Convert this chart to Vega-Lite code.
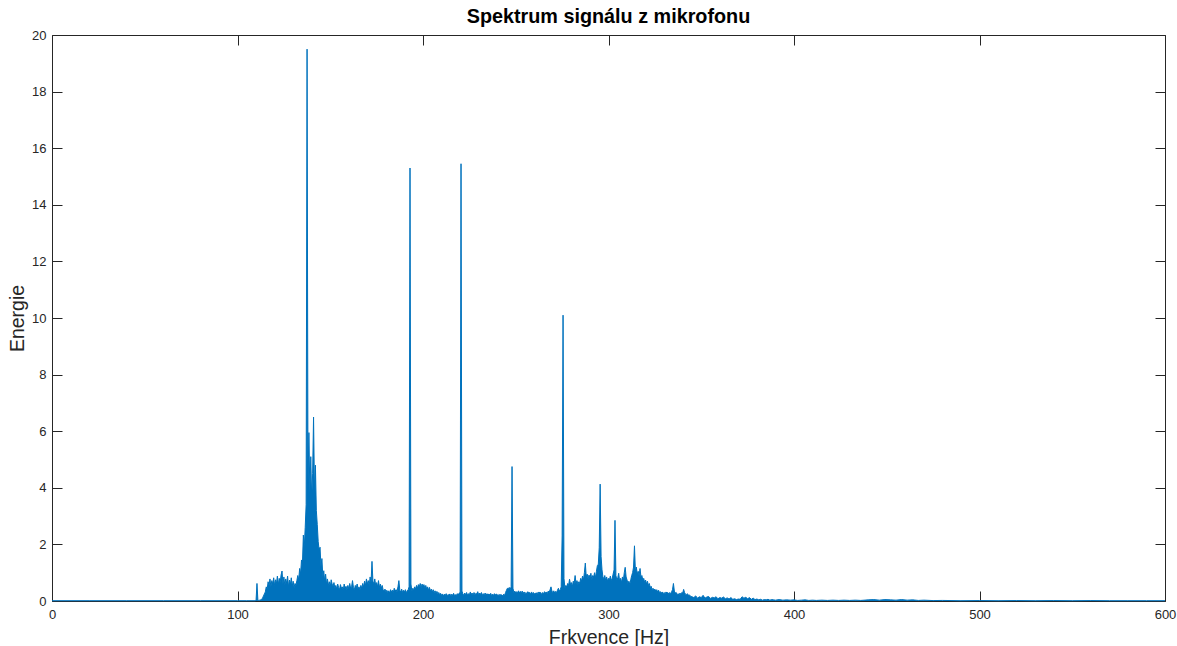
{
  "$schema": "https://vega.github.io/schema/vega-lite/v6.json",
  "width": 1113,
  "height": 566,
  "autosize": "none",
  "padding": {"left": 52, "top": 35, "right": 12, "bottom": 45},
  "background": "#ffffff",
  "title": {"text": "Spektrum signálu z mikrofonu", "font": "Liberation Sans", "fontSize": 19.8, "fontWeight": "bold", "color": "#000000", "anchor": "middle", "offset": 2},
  "config": {
    "view": {"stroke": null},
    "axis": {"grid": false, "labelFont": "Liberation Sans", "labelFontSize": 13, "labelColor": "#262626", "labelFlush": false, "tickColor": "#262626", "domainColor": "#262626", "domainWidth": 1, "tickWidth": 1, "tickSize": -10, "titleFont": "Liberation Sans", "titleFontSize": 19.5, "titleFontWeight": "normal", "titleColor": "#262626"}
  },
  "data": {"values": [
    {"f":0,"e":0.01},{"f":20,"e":0.01},{"f":40,"e":0.01},{"f":60,"e":0.01},{"f":80,"e":0.01},{"f":100,"e":0.01},{"f":105,"e":0.01},{"f":109.5,"e":0.01},
    {"f":110,"e":0.02},{"f":110.5,"e":0.62},{"f":111,"e":0.02},{"f":111.5,"e":0.02},{"f":112,"e":0.03},{"f":112.5,"e":0.04},{"f":113,"e":0.06},{"f":113.5,"e":0.1},{"f":114,"e":0.18},{"f":114.5,"e":0.25},
    {"f":115,"e":0.32},{"f":115.5,"e":0.5},{"f":116,"e":0.42},{"f":116.5,"e":0.68},{"f":117,"e":0.55},{"f":117.5,"e":0.78},{"f":118,"e":0.5},{"f":118.5,"e":0.72},{"f":119,"e":0.6},{"f":119.5,"e":0.82},
    {"f":120,"e":0.55},{"f":120.5,"e":0.75},{"f":121,"e":0.62},{"f":121.5,"e":0.88},{"f":122,"e":0.58},{"f":122.5,"e":0.8},{"f":123,"e":0.65},{"f":123.5,"e":0.92},{"f":124,"e":1.06},{"f":124.5,"e":0.6},
    {"f":125,"e":0.85},{"f":125.5,"e":0.55},{"f":126,"e":0.78},{"f":126.5,"e":0.62},{"f":127,"e":0.88},{"f":127.5,"e":0.5},{"f":128,"e":0.74},{"f":128.5,"e":0.58},{"f":129,"e":0.82},{"f":129.5,"e":0.52},
    {"f":130,"e":0.7},{"f":130.5,"e":0.48},{"f":131,"e":0.62},{"f":131.5,"e":0.55},{"f":132,"e":0.72},{"f":132.5,"e":0.9},{"f":133,"e":0.75},{"f":133.5,"e":1.15},{"f":134,"e":0.95},{"f":134.5,"e":1.45},
    {"f":135,"e":1.3},{"f":135.5,"e":2.33},{"f":136,"e":1.9},{"f":136.5,"e":2.6},{"f":137,"e":3.4},{"f":137.5,"e":19.5},{"f":138,"e":4.2},{"f":138.5,"e":5.95},{"f":139,"e":3.8},{"f":139.5,"e":5.1},
    {"f":140,"e":3.6},{"f":140.5,"e":4.5},{"f":141,"e":6.5},{"f":141.5,"e":3.9},{"f":142,"e":4.8},{"f":142.5,"e":3.2},{"f":143,"e":2.7},{"f":143.5,"e":2.1},{"f":144,"e":1.8},{"f":144.5,"e":1.9},
    {"f":145,"e":1.2},{"f":145.5,"e":1.5},{"f":146,"e":0.85},{"f":146.5,"e":1.07},{"f":147,"e":0.7},{"f":147.5,"e":0.95},{"f":148,"e":0.6},{"f":148.5,"e":0.78},{"f":149,"e":0.55},{"f":149.5,"e":0.68},
    {"f":150,"e":0.5},{"f":150.5,"e":0.75},{"f":151,"e":0.6},{"f":151.5,"e":0.52},{"f":152,"e":0.65},{"f":152.5,"e":0.45},{"f":153,"e":0.55},{"f":153.5,"e":0.42},{"f":154,"e":0.6},{"f":154.5,"e":0.48},
    {"f":155,"e":0.4},{"f":155.5,"e":0.58},{"f":156,"e":0.45},{"f":156.5,"e":0.5},{"f":157,"e":0.38},{"f":157.5,"e":0.6},{"f":158,"e":0.44},{"f":158.5,"e":0.52},{"f":159,"e":0.4},{"f":159.5,"e":0.55},
    {"f":160,"e":0.42},{"f":160.5,"e":0.62},{"f":161,"e":0.45},{"f":161.5,"e":0.5},{"f":162,"e":0.72},{"f":162.5,"e":0.48},{"f":163,"e":0.4},{"f":163.5,"e":0.55},{"f":164,"e":0.45},{"f":164.5,"e":0.6},
    {"f":165,"e":0.42},{"f":165.5,"e":0.5},{"f":166,"e":0.38},{"f":166.5,"e":0.55},{"f":167,"e":0.45},{"f":167.5,"e":0.62},{"f":168,"e":0.5},{"f":168.5,"e":0.7},{"f":169,"e":0.55},{"f":169.5,"e":0.78},
    {"f":170,"e":0.6},{"f":170.5,"e":0.72},{"f":171,"e":0.55},{"f":171.5,"e":0.85},{"f":172,"e":0.65},{"f":172.5,"e":1.4},{"f":173,"e":0.7},{"f":173.5,"e":0.6},{"f":174,"e":0.78},{"f":174.5,"e":0.55},
    {"f":175,"e":0.65},{"f":175.5,"e":0.5},{"f":176,"e":0.72},{"f":176.5,"e":0.48},{"f":177,"e":0.6},{"f":177.5,"e":0.45},{"f":178,"e":0.55},{"f":178.5,"e":0.4},{"f":179,"e":0.35},{"f":179.5,"e":0.42},
    {"f":180,"e":0.32},{"f":180.5,"e":0.38},{"f":181,"e":0.3},{"f":181.5,"e":0.36},{"f":182,"e":0.28},{"f":182.5,"e":0.4},{"f":183,"e":0.32},{"f":183.5,"e":0.38},{"f":184,"e":0.3},{"f":184.5,"e":0.45},
    {"f":185,"e":0.35},{"f":185.5,"e":0.4},{"f":186,"e":0.33},{"f":186.5,"e":0.5},{"f":187,"e":0.72},{"f":187.5,"e":0.38},{"f":188,"e":0.32},{"f":188.5,"e":0.42},{"f":189,"e":0.3},{"f":189.5,"e":0.38},
    {"f":190,"e":0.32},{"f":190.5,"e":0.4},{"f":191,"e":0.3},{"f":191.5,"e":0.35},{"f":192,"e":0.4},{"f":192.5,"e":0.5},{"f":193,"e":15.3},{"f":193.5,"e":0.6},{"f":194,"e":0.35},{"f":194.5,"e":0.45},
    {"f":195,"e":0.4},{"f":195.5,"e":0.5},{"f":196,"e":0.42},{"f":196.5,"e":0.55},{"f":197,"e":0.45},{"f":197.5,"e":0.58},{"f":198,"e":0.5},{"f":198.5,"e":0.62},{"f":199,"e":0.48},{"f":199.5,"e":0.6},
    {"f":200,"e":0.52},{"f":200.5,"e":0.58},{"f":201,"e":0.45},{"f":201.5,"e":0.55},{"f":202,"e":0.42},{"f":202.5,"e":0.5},{"f":203,"e":0.38},{"f":203.5,"e":0.48},{"f":204,"e":0.35},{"f":204.5,"e":0.42},
    {"f":205,"e":0.32},{"f":205.5,"e":0.4},{"f":206,"e":0.3},{"f":206.5,"e":0.36},{"f":207,"e":0.28},{"f":207.5,"e":0.34},{"f":208,"e":0.26},{"f":208.5,"e":0.3},{"f":209,"e":0.22},{"f":209.5,"e":0.27},
    {"f":210,"e":0.2},{"f":210.5,"e":0.25},{"f":211,"e":0.18},{"f":211.5,"e":0.24},{"f":212,"e":0.2},{"f":212.5,"e":0.26},{"f":213,"e":0.19},{"f":213.5,"e":0.23},{"f":214,"e":0.2},{"f":214.5,"e":0.25},
    {"f":215,"e":0.18},{"f":215.5,"e":0.24},{"f":216,"e":0.2},{"f":216.5,"e":0.27},{"f":217,"e":0.19},{"f":217.5,"e":0.22},{"f":218,"e":0.2},{"f":218.5,"e":0.26},{"f":219,"e":0.21},{"f":219.5,"e":0.28},
    {"f":220,"e":0.3},{"f":220.5,"e":15.45},{"f":221,"e":0.35},{"f":221.5,"e":0.25},{"f":222,"e":0.2},{"f":222.5,"e":0.28},{"f":223,"e":0.22},{"f":223.5,"e":0.3},{"f":224,"e":0.2},{"f":224.5,"e":0.26},
    {"f":225,"e":0.22},{"f":225.5,"e":0.32},{"f":226,"e":0.24},{"f":226.5,"e":0.28},{"f":227,"e":0.2},{"f":227.5,"e":0.3},{"f":228,"e":0.22},{"f":228.5,"e":0.27},{"f":229,"e":0.25},{"f":229.5,"e":0.33},
    {"f":230,"e":0.22},{"f":230.5,"e":0.28},{"f":231,"e":0.24},{"f":231.5,"e":0.3},{"f":232,"e":0.2},{"f":232.5,"e":0.26},{"f":233,"e":0.22},{"f":233.5,"e":0.28},{"f":234,"e":0.21},{"f":234.5,"e":0.26},
    {"f":235,"e":0.2},{"f":235.5,"e":0.25},{"f":236,"e":0.22},{"f":236.5,"e":0.27},{"f":237,"e":0.19},{"f":237.5,"e":0.24},{"f":238,"e":0.2},{"f":238.5,"e":0.26},{"f":239,"e":0.22},{"f":239.5,"e":0.25},
    {"f":240,"e":0.2},{"f":240.5,"e":0.23},{"f":241,"e":0.19},{"f":241.5,"e":0.24},{"f":242,"e":0.2},{"f":242.5,"e":0.22},{"f":243,"e":0.18},{"f":243.5,"e":0.24},{"f":244,"e":0.2},{"f":244.5,"e":0.3},
    {"f":245,"e":0.38},{"f":245.5,"e":0.45},{"f":246,"e":0.42},{"f":246.5,"e":0.48},{"f":247,"e":0.4},{"f":247.5,"e":0.5},{"f":248,"e":4.75},{"f":248.5,"e":0.45},{"f":249,"e":0.3},{"f":249.5,"e":0.35},
    {"f":250,"e":0.28},{"f":250.5,"e":0.33},{"f":251,"e":0.3},{"f":251.5,"e":0.36},{"f":252,"e":0.28},{"f":252.5,"e":0.34},{"f":253,"e":0.3},{"f":253.5,"e":0.35},{"f":254,"e":0.27},{"f":254.5,"e":0.32},
    {"f":255,"e":0.26},{"f":255.5,"e":0.3},{"f":256,"e":0.25},{"f":256.5,"e":0.33},{"f":257,"e":0.28},{"f":257.5,"e":0.3},{"f":258,"e":0.24},{"f":258.5,"e":0.32},{"f":259,"e":0.26},{"f":259.5,"e":0.3},
    {"f":260,"e":0.25},{"f":260.5,"e":0.28},{"f":261,"e":0.24},{"f":261.5,"e":0.3},{"f":262,"e":0.26},{"f":262.5,"e":0.32},{"f":263,"e":0.28},{"f":263.5,"e":0.3},{"f":264,"e":0.22},{"f":264.5,"e":0.3},
    {"f":265,"e":0.25},{"f":265.5,"e":0.33},{"f":266,"e":0.28},{"f":266.5,"e":0.32},{"f":267,"e":0.26},{"f":267.5,"e":0.35},{"f":268,"e":0.3},{"f":268.5,"e":0.4},{"f":269,"e":0.5},{"f":269.5,"e":0.35},
    {"f":270,"e":0.3},{"f":270.5,"e":0.36},{"f":271,"e":0.28},{"f":271.5,"e":0.34},{"f":272,"e":0.3},{"f":272.5,"e":0.38},{"f":273,"e":0.45},{"f":273.5,"e":0.35},{"f":274,"e":0.4},{"f":274.5,"e":0.5},
    {"f":275,"e":2.3},{"f":275.5,"e":10.1},{"f":276,"e":0.8},{"f":276.5,"e":0.45},{"f":277,"e":0.55},{"f":277.5,"e":0.5},{"f":278,"e":0.62},{"f":278.5,"e":0.55},{"f":279,"e":0.77},{"f":279.5,"e":0.58},
    {"f":280,"e":0.65},{"f":280.5,"e":0.5},{"f":281,"e":0.7},{"f":281.5,"e":0.62},{"f":282,"e":0.9},{"f":282.5,"e":0.6},{"f":283,"e":0.72},{"f":283.5,"e":0.58},{"f":284,"e":0.68},{"f":284.5,"e":0.62},
    {"f":285,"e":0.8},{"f":285.5,"e":0.7},{"f":286,"e":0.88},{"f":286.5,"e":0.75},{"f":287,"e":1.0},{"f":287.5,"e":1.34},{"f":288,"e":0.85},{"f":288.5,"e":0.95},{"f":289,"e":0.78},{"f":289.5,"e":0.92},
    {"f":290,"e":0.8},{"f":290.5,"e":0.98},{"f":291,"e":0.75},{"f":291.5,"e":0.9},{"f":292,"e":0.85},{"f":292.5,"e":1.0},{"f":293,"e":0.82},{"f":293.5,"e":1.05},{"f":294,"e":1.25},{"f":294.5,"e":1.3},
    {"f":295,"e":1.88},{"f":295.5,"e":4.13},{"f":296,"e":1.57},{"f":296.5,"e":1.1},{"f":297,"e":0.85},{"f":297.5,"e":0.78},{"f":298,"e":0.9},{"f":298.5,"e":0.72},{"f":299,"e":0.85},{"f":299.5,"e":0.7},
    {"f":300,"e":0.8},{"f":300.5,"e":0.75},{"f":301,"e":0.88},{"f":301.5,"e":0.72},{"f":302,"e":0.8},{"f":302.5,"e":0.95},{"f":303,"e":1.1},{"f":303.5,"e":2.85},{"f":304,"e":0.9},{"f":304.5,"e":0.75},
    {"f":305,"e":0.82},{"f":305.5,"e":0.98},{"f":306,"e":0.7},{"f":306.5,"e":0.8},{"f":307,"e":0.65},{"f":307.5,"e":0.85},{"f":308,"e":0.72},{"f":308.5,"e":1.0},{"f":309,"e":1.19},{"f":309.5,"e":0.85},
    {"f":310,"e":0.74},{"f":310.5,"e":0.62},{"f":311,"e":0.7},{"f":311.5,"e":0.58},{"f":312,"e":0.75},{"f":312.5,"e":0.9},{"f":313,"e":1.0},{"f":313.5,"e":1.2},{"f":314,"e":1.95},{"f":314.5,"e":1.05},
    {"f":315,"e":1.2},{"f":315.5,"e":0.95},{"f":316,"e":1.05},{"f":316.5,"e":0.9},{"f":317,"e":1.15},{"f":317.5,"e":0.85},{"f":318,"e":0.9},{"f":318.5,"e":0.74},{"f":319,"e":0.8},{"f":319.5,"e":0.65},
    {"f":320,"e":0.74},{"f":320.5,"e":0.6},{"f":321,"e":0.7},{"f":321.5,"e":0.55},{"f":322,"e":0.62},{"f":322.5,"e":0.48},{"f":323,"e":0.52},{"f":323.5,"e":0.4},{"f":324,"e":0.45},{"f":324.5,"e":0.38},
    {"f":325,"e":0.42},{"f":325.5,"e":0.35},{"f":326,"e":0.4},{"f":326.5,"e":0.32},{"f":327,"e":0.38},{"f":327.5,"e":0.3},{"f":328,"e":0.33},{"f":328.5,"e":0.28},{"f":329,"e":0.32},{"f":329.5,"e":0.26},
    {"f":330,"e":0.3},{"f":330.5,"e":0.25},{"f":331,"e":0.32},{"f":331.5,"e":0.28},{"f":332,"e":0.3},{"f":332.5,"e":0.24},{"f":333,"e":0.3},{"f":333.5,"e":0.26},{"f":334,"e":0.32},{"f":334.5,"e":0.4},
    {"f":335,"e":0.62},{"f":335.5,"e":0.35},{"f":336,"e":0.28},{"f":336.5,"e":0.3},{"f":337,"e":0.22},{"f":337.5,"e":0.26},{"f":338,"e":0.2},{"f":338.5,"e":0.28},{"f":339,"e":0.24},{"f":339.5,"e":0.3},
    {"f":340,"e":0.28},{"f":340.5,"e":0.41},{"f":341,"e":0.3},{"f":341.5,"e":0.24},{"f":342,"e":0.22},{"f":342.5,"e":0.26},{"f":343,"e":0.2},{"f":343.5,"e":0.22},{"f":344,"e":0.18},{"f":344.5,"e":0.16},
    {"f":345,"e":0.15},{"f":346,"e":0.12},{"f":347,"e":0.18},{"f":348,"e":0.1},{"f":349,"e":0.15},{"f":350,"e":0.12},{"f":351,"e":0.2},{"f":352,"e":0.1},{"f":353,"e":0.14},{"f":354,"e":0.16},
    {"f":355,"e":0.09},{"f":356,"e":0.13},{"f":357,"e":0.11},{"f":358,"e":0.15},{"f":359,"e":0.08},{"f":360,"e":0.12},{"f":361,"e":0.1},{"f":362,"e":0.14},{"f":363,"e":0.08},{"f":364,"e":0.11},
    {"f":365,"e":0.07},{"f":366,"e":0.12},{"f":367,"e":0.06},{"f":368,"e":0.08},{"f":369,"e":0.05},{"f":370,"e":0.07},{"f":371,"e":0.06},{"f":372,"e":0.15},{"f":373,"e":0.1},{"f":374,"e":0.13},
    {"f":375,"e":0.08},{"f":376,"e":0.12},{"f":377,"e":0.06},{"f":378,"e":0.1},{"f":379,"e":0.05},{"f":380,"e":0.07},{"f":381,"e":0.04},{"f":382,"e":0.06},{"f":383,"e":0.03},{"f":384,"e":0.05},
    {"f":385,"e":0.04},{"f":386,"e":0.06},{"f":387,"e":0.03},{"f":388,"e":0.05},{"f":389,"e":0.04},{"f":390,"e":0.03},{"f":392,"e":0.05},{"f":394,"e":0.03},{"f":396,"e":0.04},{"f":398,"e":0.03},
    {"f":400,"e":0.04},{"f":402,"e":0.02},{"f":404,"e":0.03},{"f":406,"e":0.04},{"f":408,"e":0.02},{"f":410,"e":0.03},{"f":412,"e":0.02},{"f":415,"e":0.03},{"f":418,"e":0.02},{"f":421,"e":0.03},
    {"f":424,"e":0.02},{"f":427,"e":0.03},{"f":430,"e":0.02},{"f":433,"e":0.03},{"f":436,"e":0.02},{"f":440,"e":0.04},{"f":443,"e":0.05},{"f":446,"e":0.03},{"f":449,"e":0.05},{"f":452,"e":0.04},
    {"f":455,"e":0.03},{"f":458,"e":0.05},{"f":461,"e":0.03},{"f":464,"e":0.04},{"f":467,"e":0.02},{"f":470,"e":0.03},{"f":475,"e":0.015},{"f":480,"e":0.02},{"f":490,"e":0.01},{"f":500,"e":0.015},
    {"f":510,"e":0.01},{"f":520,"e":0.015},{"f":530,"e":0.01},{"f":540,"e":0.015},{"f":550,"e":0.01},{"f":560,"e":0.015},{"f":570,"e":0.01},{"f":580,"e":0.01},{"f":590,"e":0.01},{"f":600,"e":0.01}
  ]},
  "layer": [
    {
      "mark": {"type": "area", "color": "#0072BD", "opacity": 1},
      "encoding": {
        "x": {"field": "f", "type": "quantitative", "scale": {"domain": [0, 600], "nice": false, "zero": false},
              "axis": {"orient": "bottom", "values": [0,100,200,300,400,500,600], "format": "d", "labelPadding": 17, "title": "Frkvence [Hz]", "titleY": 42, "titleBaseline": "alphabetic"}},
        "y": {"field": "e", "type": "quantitative", "scale": {"domain": [0, 20], "nice": false},
              "axis": {"orient": "left", "values": [0,2,4,6,8,10,12,14,16,18,20], "format": "d", "labelPadding": 16, "title": "Energie", "titleX": -29, "titleBaseline": "alphabetic"}}
      }
    },
    {
      "mark": {"type": "line", "color": "#0072BD", "strokeWidth": 1},
      "encoding": {
        "x": {"field": "f", "type": "quantitative",
              "axis": {"orient": "top", "values": [0,100,200,300,400,500,600], "labels": false, "title": null}},
        "y": {"field": "e", "type": "quantitative",
              "axis": {"orient": "right", "values": [0,2,4,6,8,10,12,14,16,18,20], "labels": false, "title": null}}
      }
    }
  ],
  "resolve": {"axis": {"x": "independent", "y": "independent"}}
}
